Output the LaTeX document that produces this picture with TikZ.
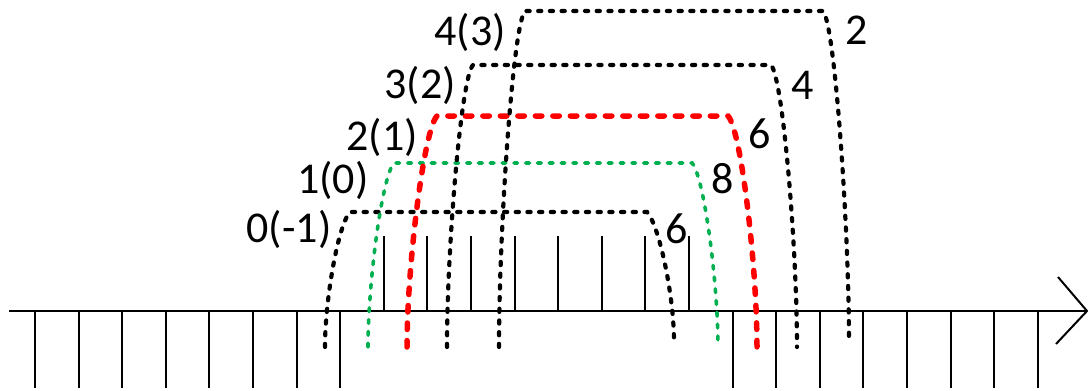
\documentclass[tikz,border=0pt]{standalone}
\usepackage{fontspec}
\setmainfont{Carlito}
\begin{document}
\begin{tikzpicture}[x=1pt,y=-1pt,
  axisline/.style={line width=2pt,black},
  tickline/.style={line width=2pt,black},
  blackarc/.style={line width=4.2pt,black,line cap=round,dash pattern=on 3.2pt off 8.5pt},
  greenarc/.style={line width=3.6pt,color={rgb,255:red,0;green,176;blue,80},line cap=round,dash pattern=on 3.8pt off 8pt},
  redarc/.style={line width=5.5pt,red,line cap=round,dash pattern=on 6.5pt off 11pt},
  lbl/.style={font=\fontsize{44}{44}\selectfont,inner sep=0pt,anchor=base}]
\useasboundingbox (0,0) rectangle (1088,391);
% axis
\coordinate (a0) at (9,311);
\coordinate (a1) at (1087,311);
\coordinate (h1) at (1058,277);
\coordinate (h2) at (1056,344);
\draw[axisline] (a0) -- (a1);
\draw[axisline,line join=miter] (h1) -- (a1) -- (h2);
% ticks
\foreach \k in {0,...,7}{\draw[tickline] (35+43.6*\k,311) -- (35+43.6*\k,388);}
\foreach \k in {8,...,15}{\draw[tickline] (35+43.6*\k,311) -- (35+43.6*\k,236);}
\foreach \k in {16,...,23}{\draw[tickline] (35+43.6*\k,311) -- (35+43.6*\k,388);}
% arcs
\draw[blackarc] (325,347) .. controls (325,300) and (338,225) .. (350,212) -- (647,212) .. controls (659,225) and (674,295) .. (674,342);
\draw[greenarc] (368,347) .. controls (368,283) and (382,176) .. (394,163) -- (692,163) .. controls (704,176) and (718,283) .. (718,347);
\draw[redarc] (407,347) .. controls (407,266) and (424,129) .. (437,116) -- (728,116) .. controls (741,129) and (757,266) .. (757,347);
\draw[blackarc] (447,347) .. controls (447,248) and (461,78) .. (473,65) -- (771,65) .. controls (783,78) and (797,248) .. (797,347);
\draw[blackarc] (499,347) .. controls (499,229) and (513,24) .. (525,11) -- (823,11) .. controls (835,24) and (849,229) .. (849,343);
% labels
\node[lbl] (l0) at (289,242) {0(-1)};
\node[lbl] (r0) at (677,243) {6};
\node[lbl] (l1) at (333,193) {1(0)};
\node[lbl] (r1) at (723,193) {8};
\node[lbl] (l2) at (382,150) {2(1)};
\node[lbl] (r2) at (760,148) {6};
\node[lbl] (l3) at (420,98) {3(2)};
\node[lbl] (r3) at (803,99) {4};
\node[lbl] (l4) at (470,45) {4(3)};
\node[lbl] (r4) at (857,44) {2};
\end{tikzpicture}
\end{document}
